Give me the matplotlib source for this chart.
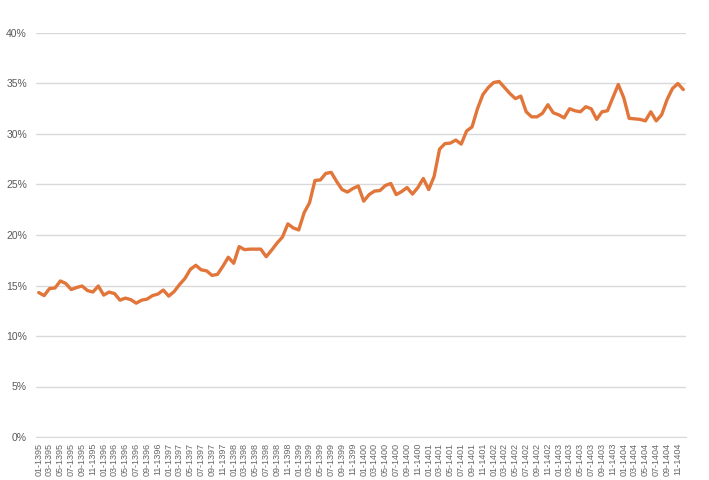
import matplotlib
matplotlib.use("Agg")
import matplotlib.pyplot as plt
from matplotlib.ticker import PercentFormatter

# monthly share (%), 01-1395 .. 12-1404
months = ["%02d-%d" % (m, y) for y in range(1395, 1405) for m in range(1, 13)]
values = [
    14.3, 14.0, 14.7, 14.75, 15.45, 15.2, 14.6, 14.8, 14.95, 14.5, 14.35, 14.95,
    14.05, 14.35, 14.2, 13.55, 13.75, 13.6, 13.25, 13.55, 13.65, 14.0, 14.15, 14.55,
    13.95, 14.4, 15.1, 15.7, 16.6, 17.0, 16.55, 16.45, 16.0, 16.1, 16.9, 17.8,
    17.2, 18.85, 18.55, 18.6, 18.6, 18.6, 17.85, 18.5, 19.2, 19.8, 21.1, 20.7,
    20.5, 22.2, 23.2, 25.4, 25.45, 26.1, 26.2, 25.3, 24.5, 24.25, 24.6, 24.85,
    23.35, 24.0, 24.35, 24.4, 24.9, 25.1, 24.0, 24.3, 24.7, 24.05, 24.7, 25.6,
    24.5, 25.8, 28.5, 29.05, 29.1, 29.4, 29.0, 30.3, 30.7, 32.5, 33.9, 34.6,
    35.1, 35.2, 34.6, 34.0, 33.5, 33.75, 32.2, 31.7, 31.7, 32.05, 32.9, 32.1,
    31.9, 31.6, 32.5, 32.3, 32.2, 32.7, 32.5, 31.45, 32.2, 32.3, 33.6, 34.9,
    33.6, 31.55, 31.5, 31.45, 31.3, 32.2, 31.3, 31.9, 33.4, 34.5, 35.0, 34.4,
]
assert len(values) == len(months)

plt.rcParams['font.family'] = ['Liberation Sans', 'DejaVu Sans']

fig = plt.figure(figsize=(7.09, 4.8), dpi=100)
ax = fig.add_axes([36/709, 43/480, 650/709, 404/480])

x = list(range(len(values)))
ax.plot(x, values, color='#E2763A', lw=2.4, solid_capstyle='round', solid_joinstyle='round', zorder=3)

ax.set_xlim(-0.5, len(values) - 0.5)
ax.set_ylim(0, 40)
ax.set_yticks(range(0, 41, 5))
ax.yaxis.set_major_formatter(PercentFormatter(decimals=0))
ax.grid(axis='y', color='#d9d9d9', lw=1)
ax.set_axisbelow(True)

ax.set_xticks(x[::2])
ax.set_xticklabels(months[::2], rotation=90, fontsize=6.5, color='#666666')
ax.tick_params(axis='x', length=0, pad=4)
ax.tick_params(axis='y', length=0, pad=6.5, labelsize=7.5, labelcolor='#595959')

for s in ['top', 'right', 'left']:
    ax.spines[s].set_visible(False)
ax.spines['bottom'].set_color('#d9d9d9')

fig.savefig('out.png', dpi=100)
